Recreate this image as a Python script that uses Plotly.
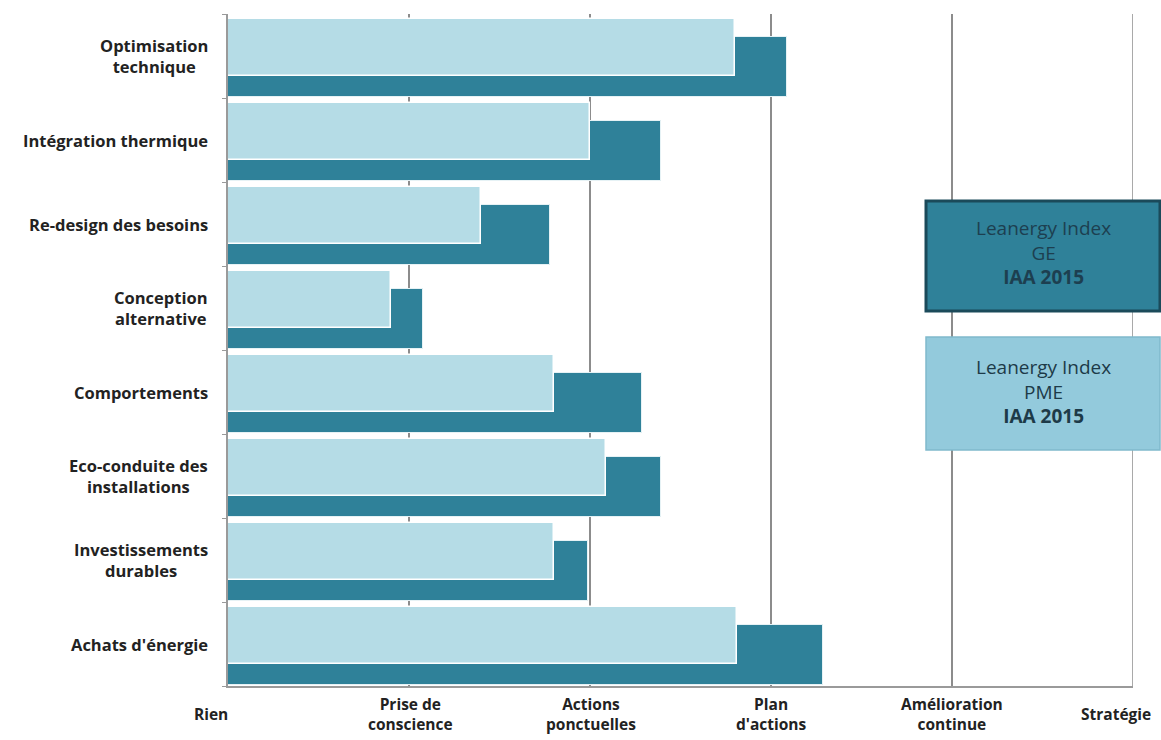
import plotly.graph_objects as go

categories = ["Optimisation<br>technique", "Intégration thermique", "Re-design des besoins",
              "Conception<br>alternative", "Comportements", "Eco-conduite des<br>installations",
              "Investissements<br>durables", "Achats d'énergie"]
ge_values = [3.09, 2.39, 1.78, 1.08, 2.29, 2.39, 1.99, 3.29]
pme_values = [2.80, 2.00, 1.40, 0.90, 1.80, 2.09, 1.80, 2.81]
level_labels = ["Rien", "Prise de<br>conscience", "Actions<br>ponctuelles", "Plan<br>d'actions",
                "Amélioration<br>continue", "Stratégie"]

DARK = "#2f8199"
LIGHT = "#b5dce6"
FONT = "Open Sans"

pos = list(range(len(categories)))

fig = go.Figure()
fig.add_trace(go.Bar(
    y=pos, x=ge_values, orientation="h", name="GE",
    marker=dict(color=DARK, line=dict(color="#e6f2f5", width=1)),
    width=0.72, offset=-0.23,
))
fig.add_trace(go.Bar(
    y=pos, x=pme_values, orientation="h", name="PME",
    marker=dict(color=LIGHT, line=dict(color="#ffffff", width=1.5)),
    width=0.68, offset=-0.44,
))

annotations = []
for i, c in enumerate(categories):
    annotations.append(dict(
        x=-0.02, xref="paper", y=i, yref="y", text="<b>" + c + "</b>",
        showarrow=False, xanchor="right", yanchor="middle", align="center",
        font=dict(family=FONT, size=16.5, color="#222222"),
    ))
label_px = [211, 410, 591, 771, 952, 1116]
for i, t in enumerate(level_labels):
    annotations.append(dict(
        x=(label_px[i] - 228) / 905, xref="paper", y=-0.041, yref="paper", text="<b>" + t + "</b>",
        showarrow=False, xanchor="center", yanchor="middle", align="center",
        font=dict(family=FONT, size=15.5, color="#222222"),
    ))

# legend boxes
annotations.append(dict(
    x=(1043 - 228) / 905, xref="paper", y=(686 - 253) / 672, yref="paper",
    text="Leanergy Index<br>GE<br><b>IAA 2015</b>", showarrow=False,
    xanchor="center", yanchor="middle", align="center",
    font=dict(family=FONT, size=19, color="#1d3f50"),
))
annotations.append(dict(
    x=(1043 - 228) / 905, xref="paper", y=(686 - 391) / 672, yref="paper",
    text="Leanergy Index<br>PME<br><b>IAA 2015</b>", showarrow=False,
    xanchor="center", yanchor="middle", align="center",
    font=dict(family=FONT, size=19, color="#1d3a48"),
))

shapes = [
    dict(type="line", xref="x", yref="paper", x0=5, x1=5, y0=0, y1=1,
         line=dict(color="#8c8c8c", width=1.5), layer="below"),
    dict(type="rect", xref="paper", yref="paper",
         x0=(926 - 228) / 905, x1=(1160 - 228) / 905,
         y0=(686 - 311) / 672, y1=(686 - 201) / 672,
         fillcolor=DARK, line=dict(color="#1b4a5a", width=3), layer="above"),
    dict(type="rect", xref="paper", yref="paper",
         x0=(926 - 228) / 905, x1=(1160 - 228) / 905,
         y0=(686 - 450) / 672, y1=(686 - 337) / 672,
         fillcolor="#93cadc", line=dict(color="#80b9cc", width=1.5), layer="above"),
]

fig.update_layout(
    width=1161, height=740,
    margin=dict(l=228, r=28, t=14, b=54),
    paper_bgcolor="white", plot_bgcolor="white",
    barmode="overlay", bargap=0,
    showlegend=False,
    annotations=annotations, shapes=shapes,
    xaxis=dict(range=[0, 5], tickvals=[0, 1, 2, 3, 4, 5], showticklabels=False,
               showgrid=True, gridcolor="#8c8c8c", gridwidth=1.5, zeroline=False,
               showline=True, linecolor="#9a9a9a", linewidth=2),
    yaxis=dict(range=[7.5, -0.5], tickvals=[i - 0.5 for i in range(9)], showticklabels=False,
               ticks="outside", ticklen=4, tickcolor="#9a9a9a", showgrid=False, zeroline=False,
               showline=True, linecolor="#9a9a9a", linewidth=2),
)

fig.write_html("out.html")
